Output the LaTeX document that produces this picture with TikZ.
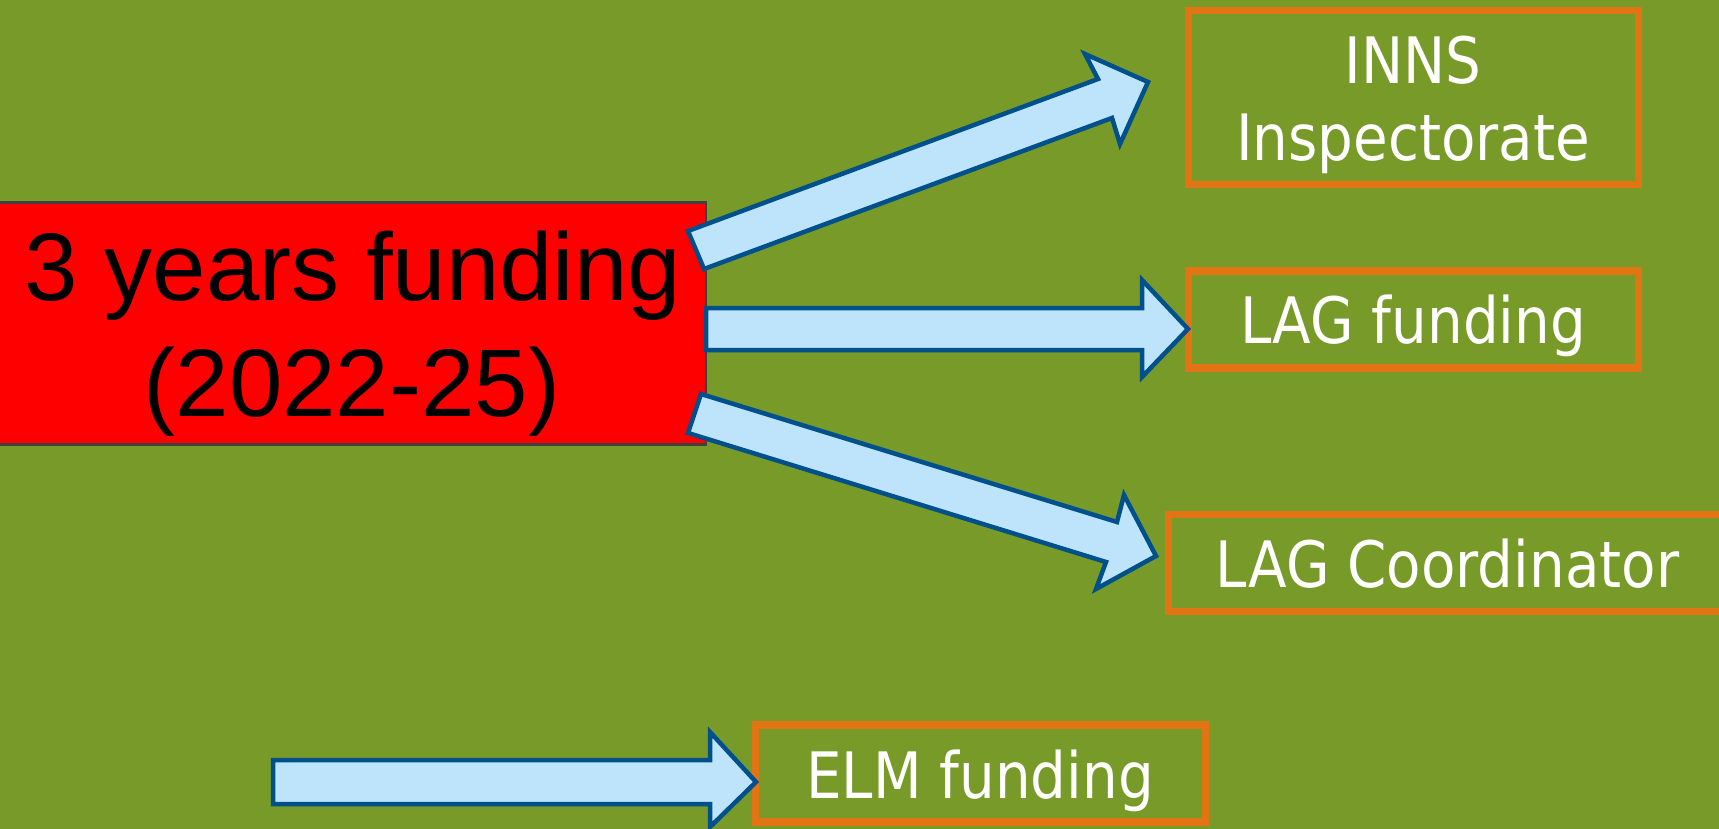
\documentclass[tikz,border=0pt]{standalone}
\usepackage{fontspec}
\setmainfont{Liberation Sans}
\newfontfamily\tahoma[FakeStretch=0.88]{DejaVu Sans}
\definecolor{bg}{RGB}{120,154,41}
\definecolor{arrfill}{RGB}{190,228,252}
\definecolor{arrline}{RGB}{0,80,140}
\definecolor{boxline}{RGB}{227,116,20}
\definecolor{redline}{RGB}{64,64,64}
\begin{document}
\begin{tikzpicture}[x=1pt,y=-1pt,
  blockarrow/.style={fill=arrfill,draw=arrline,line width=4.5pt,line join=miter},
  outbox/.style={draw=boxline,line width=7.5pt,fill=none,inner sep=0pt,outer sep=0pt},
  srcbox/.style={draw=redline,fill=red,line width=2.5pt,inner sep=0pt,outer sep=0pt},
  srctext/.style={font=\fontsize{96}{116}\selectfont,text=black,inner sep=0pt,anchor=base},
  outtext/.style={font=\tahoma\fontsize{64}{76}\selectfont,text=white,inner sep=0pt,anchor=base}]
\fill[bg] (0,0) rectangle (1719,829);
\clip (0,0) rectangle (1719,829);

% source box
\node[srcbox,minimum width=707pt,minimum height=242pt] (src) at (352.5,323.5) {};
\node[srctext] (srcA) at (353,300) {3 years funding};
\node[srctext] (srcB) at (352,416) {(2022-25)};

% target boxes
\node[outbox,minimum width=450pt,minimum height=174pt] (inns) at (1413.5,97.5) {};
\node[outtext] (innsA) at (1413,84) {INNS};
\node[outtext] (innsB) at (1413,161) {Inspectorate};

\node[outbox,minimum width=450pt,minimum height=97pt] (lagf) at (1413.5,319.5) {};
\node[outtext] (lagfT) at (1413,343.5) {LAG funding};

\node[outbox,minimum width=570pt,minimum height=97pt] (lagc) at (1453.5,563) {};
\node[outtext] (lagcT) at (1447.5,587.5) {LAG Coordinator};

\node[outbox,minimum width=450pt,minimum height=97pt] (elm) at (980.5,773.5) {};
\node[outtext] (elmT) at (980,798) {ELM funding};

% block arrows
\draw[blockarrow] (688,231) -- (1098,79) -- (1085,54) -- (1148,82) -- (1120,144) -- (1112,118) -- (704,269) -- cycle;
\draw[blockarrow] (706,308) -- (1142,308) -- (1142,280) -- (1188,329) -- (1142,377) -- (1142,350) -- (706,350) -- cycle;
\draw[blockarrow] (701,394) -- (1117,522) -- (1124,495) -- (1156,556) -- (1096,589) -- (1106,562) -- (688,433) -- cycle;
\draw[blockarrow] (273,760) -- (710,760) -- (710,732) -- (756,782) -- (710,827) -- (710,804) -- (273,804) -- cycle;
\end{tikzpicture}
\end{document}
